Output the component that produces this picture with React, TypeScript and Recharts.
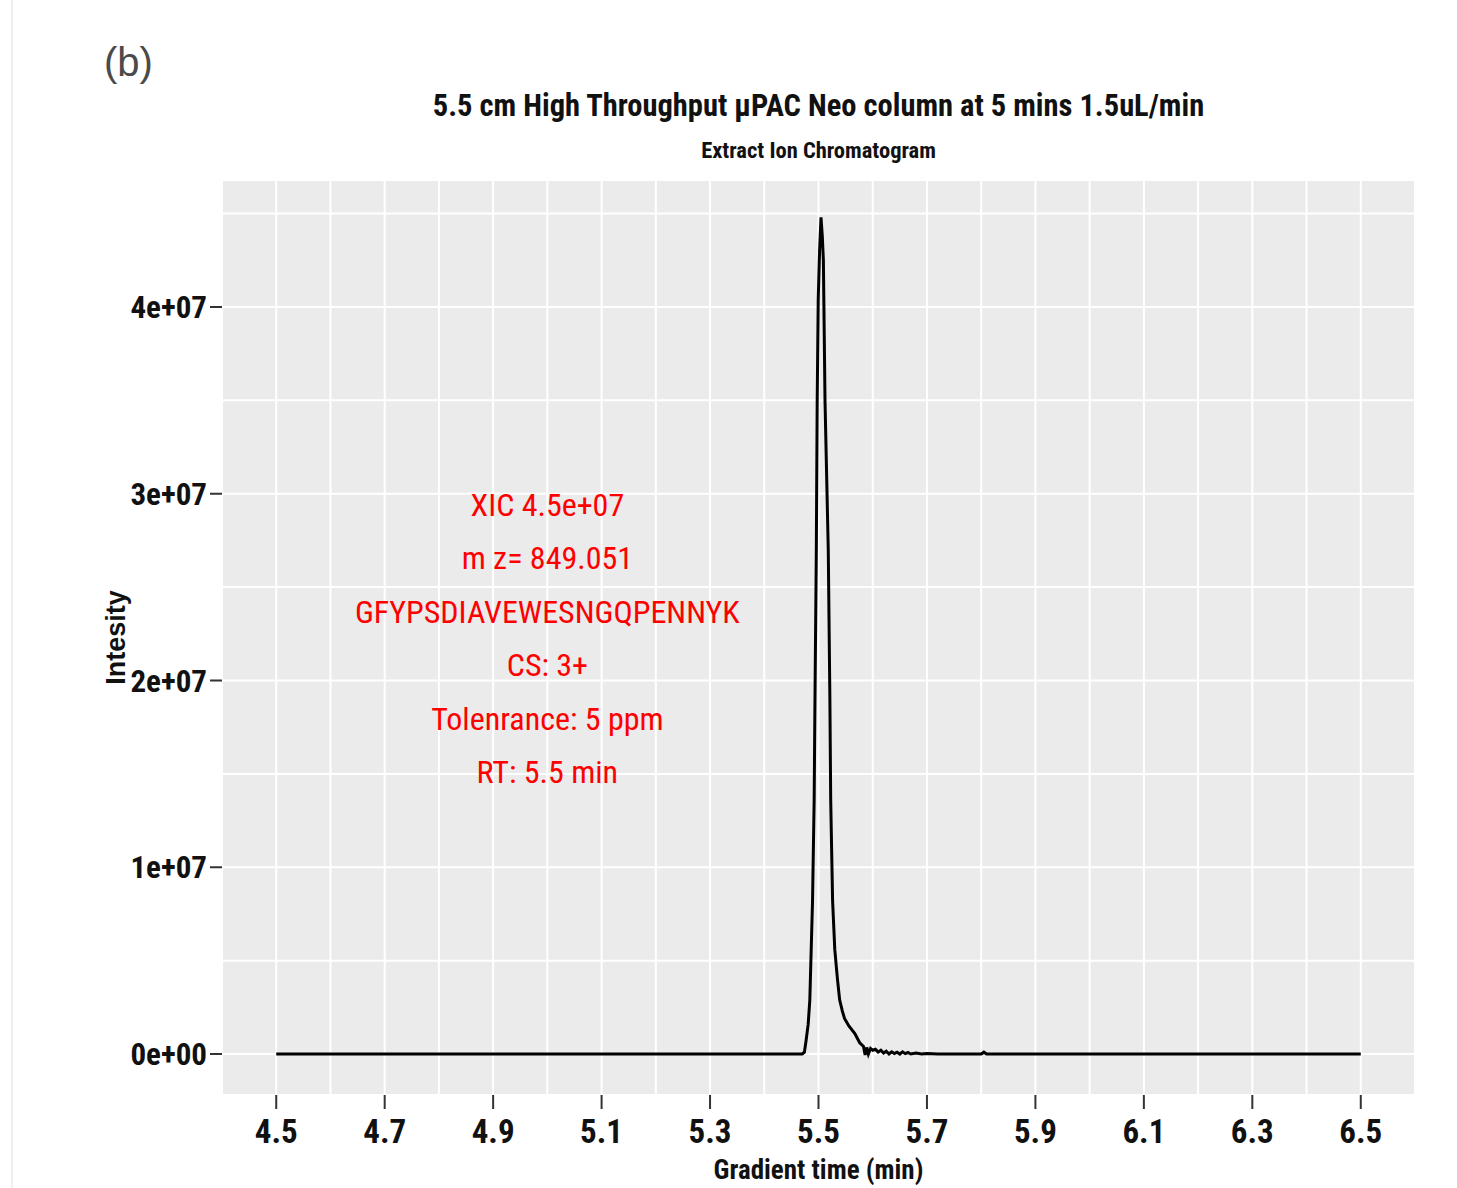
import React from 'react';
import {
  LineChart, Line, XAxis, YAxis, CartesianGrid, ReferenceDot, Label
} from 'recharts';

// retention time (min) and intensity
const rtMin = [
  4.5, 5.47, 5.474, 5.477, 5.481, 5.484, 5.489, 5.492, 5.4935, 5.496, 5.4976, 5.4995,
  5.502, 5.5046, 5.507, 5.509, 5.512, 5.518, 5.521, 5.5225, 5.526, 5.53, 5.535, 5.539,
  5.544, 5.548, 5.556, 5.567, 5.576, 5.583, 5.586, 5.589, 5.592, 5.596, 5.6, 5.605,
  5.61, 5.615, 5.62, 5.625, 5.63, 5.635, 5.64, 5.645, 5.65, 5.655, 5.66, 5.665, 5.67,
  5.68, 5.69, 5.7, 5.72, 5.8, 5.805, 5.81, 6.5,
];
const intensity = [
  0, 0, 1e5, 7e5, 1.6e6, 2.9e6, 8.2e6, 1.36e7, 1.9e7, 2.7e7, 3.5e7, 4.04e7,
  4.3e7, 4.48e7, 4.38e7, 4.25e7, 3.5e7, 2.7e7, 1.9e7, 1.36e7, 8.2e6, 5.6e6, 4.0e6, 2.9e6,
  2.3e6, 1.9e6, 1.5e6, 1.1e6, 6e5, 4e5, -5e4, 3.5e5, 0, 3e5, 2e5, 2.5e5,
  1e5, 2e5, 5e4, 1.5e5, 0, 1.2e5, 3e4, 1e5, 0, 1.2e5, 2e4, 8e4, 0,
  5e4, 0, 3e4, 0, 0, 1e5, 0, 0,
];

const xTicks = [4.5, 4.7, 4.9, 5.1, 5.3, 5.5, 5.7, 5.9, 6.1, 6.3, 6.5];
const yTicks = [0, 1e7, 2e7, 3e7, 4e7];
const xGrid = [4.4, 4.5, 4.6, 4.7, 4.8, 4.9, 5.0, 5.1, 5.2, 5.3, 5.4, 5.5, 5.6, 5.7, 5.8, 5.9, 6.0, 6.1, 6.2, 6.3, 6.4, 6.5, 6.6];
const yGrid = [-2195000, 0, 5e6, 1e7, 1.5e7, 2e7, 2.5e7, 3e7, 3.5e7, 4e7, 4.5e7, 4.68e7];
const xDomain = [4.4, 6.6];
const yDomain = [-2195000, 4.68e7];

const noteLines = [
  'XIC 4.5e+07',
  'm z= 849.051',
  'GFYPSDIAVEWESNGQPENNYK',
  'CS: 3+',
  'Tolenrance: 5 ppm',
  'RT: 5.5 min',
];
const noteY = [2.94e7, 2.656e7, 2.367e7, 2.083e7, 1.794e7, 1.51e7];
const noteX = 5.0;

const data = rtMin.map((t, i) => ({ t, v: intensity[i] }));

const NARROW = "'Liberation Sans Narrow', 'Arial Narrow', 'Roboto Condensed', sans-serif";
const SANS = "'Liberation Sans', Arial, sans-serif";

const fmtSci = (v: number) => (v === 0 ? '0e+00' : `${v / 1e7}e+07`);

const NoteText = (text: string) => (props: any) => (
  <text
    x={props.cx}
    y={props.cy}
    textAnchor="middle"
    dominantBaseline="central"
    fill="#FF0000"
    fontFamily={NARROW}
    fontSize={32}
  >
    {text}
  </text>
);

export default function App() {
  return (
    <div style={{ position: 'absolute', left: 0, top: 0, width: 1457, height: 1188, background: '#fff' }}>
      <div style={{ position: 'absolute', left: 11, top: 0, width: 2, height: 1188, background: '#EFEFEF' }} />
      <div style={{
        position: 'absolute', left: 104, top: 38, fontFamily: SANS,
        fontSize: 40, color: '#4A4A4A', lineHeight: '48px',
      }}>(b)</div>
      <div style={{
        position: 'absolute', left: 222, width: 1193, top: 85, textAlign: 'center',
        fontFamily: NARROW, fontWeight: 'bold', fontSize: 30.5, lineHeight: '42px', color: '#111',
      }}>5.5 cm High Throughput µPAC Neo column at 5 mins 1.5uL/min</div>
      <div style={{
        position: 'absolute', left: 222, width: 1193, top: 136, textAlign: 'center',
        fontFamily: NARROW, fontWeight: 'bold', fontSize: 22.5, lineHeight: '28px', color: '#111',
      }}>Extract Ion Chromatogram</div>
      <LineChart
        width={1457}
        height={1188}
        data={data}
        margin={{ top: 180, right: 42, bottom: 0, left: 0 }}
      >
        <CartesianGrid
          xAxisId="grid"
          yAxisId="grid"
          fill="#EBEBEB"
          stroke="#FFFFFF"
          strokeWidth={2}
        />
        <XAxis xAxisId="grid" dataKey="t" type="number" domain={xDomain} ticks={xGrid} hide allowDataOverflow />
        <YAxis yAxisId="grid" type="number" domain={yDomain} ticks={yGrid} hide allowDataOverflow />
        <XAxis
          dataKey="t"
          type="number"
          domain={xDomain}
          ticks={xTicks}
          allowDataOverflow
          height={93}
          axisLine={false}
          tickSize={14}
          tickMargin={11}
          tickLine={{ stroke: '#333', strokeWidth: 2 }}
          tick={{ fill: '#111', fontSize: 33, fontWeight: 'bold', fontFamily: NARROW }}
          tickFormatter={(v: number) => v.toFixed(1)}
        >
          <Label
            content={({ viewBox }: any) => (
              <text
                x={viewBox.x + viewBox.width / 2}
                y={viewBox.y + 75}
                textAnchor="middle"
                dominantBaseline="central"
                fontFamily={NARROW}
                fontWeight="bold"
                fontSize={27}
                fill="#111"
              >
                Gradient time (min)
              </text>
            )}
          />
        </XAxis>
        <YAxis
          type="number"
          domain={yDomain}
          ticks={yTicks}
          allowDataOverflow
          width={222}
          axisLine={false}
          tickSize={12}
          tickMargin={3}
          tickLine={{ stroke: '#333', strokeWidth: 2 }}
          tick={{ fill: '#111', fontSize: 31, fontWeight: 'bold', fontFamily: NARROW }}
          tickFormatter={fmtSci}
        >
          <Label
            content={({ viewBox }: any) => {
              const cy = viewBox.y + viewBox.height / 2;
              return (
                <text
                  x={116}
                  y={cy}
                  transform={`rotate(-90 116 ${cy})`}
                  textAnchor="middle"
                  dominantBaseline="central"
                  fontFamily={SANS}
                  fontWeight="bold"
                  fontSize={27}
                  fill="#111"
                >
                  Intesity
                </text>
              );
            }}
          />
        </YAxis>
        <Line
          type="linear"
          dataKey="v"
          stroke="#000"
          strokeWidth={3}
          dot={false}
          activeDot={false}
          isAnimationActive={false}
        />
        {noteLines.map((txt, i) => (
          <ReferenceDot key={txt} x={noteX} y={noteY[i]} r={0} shape={NoteText(txt)} />
        ))}
      </LineChart>
    </div>
  );
}
